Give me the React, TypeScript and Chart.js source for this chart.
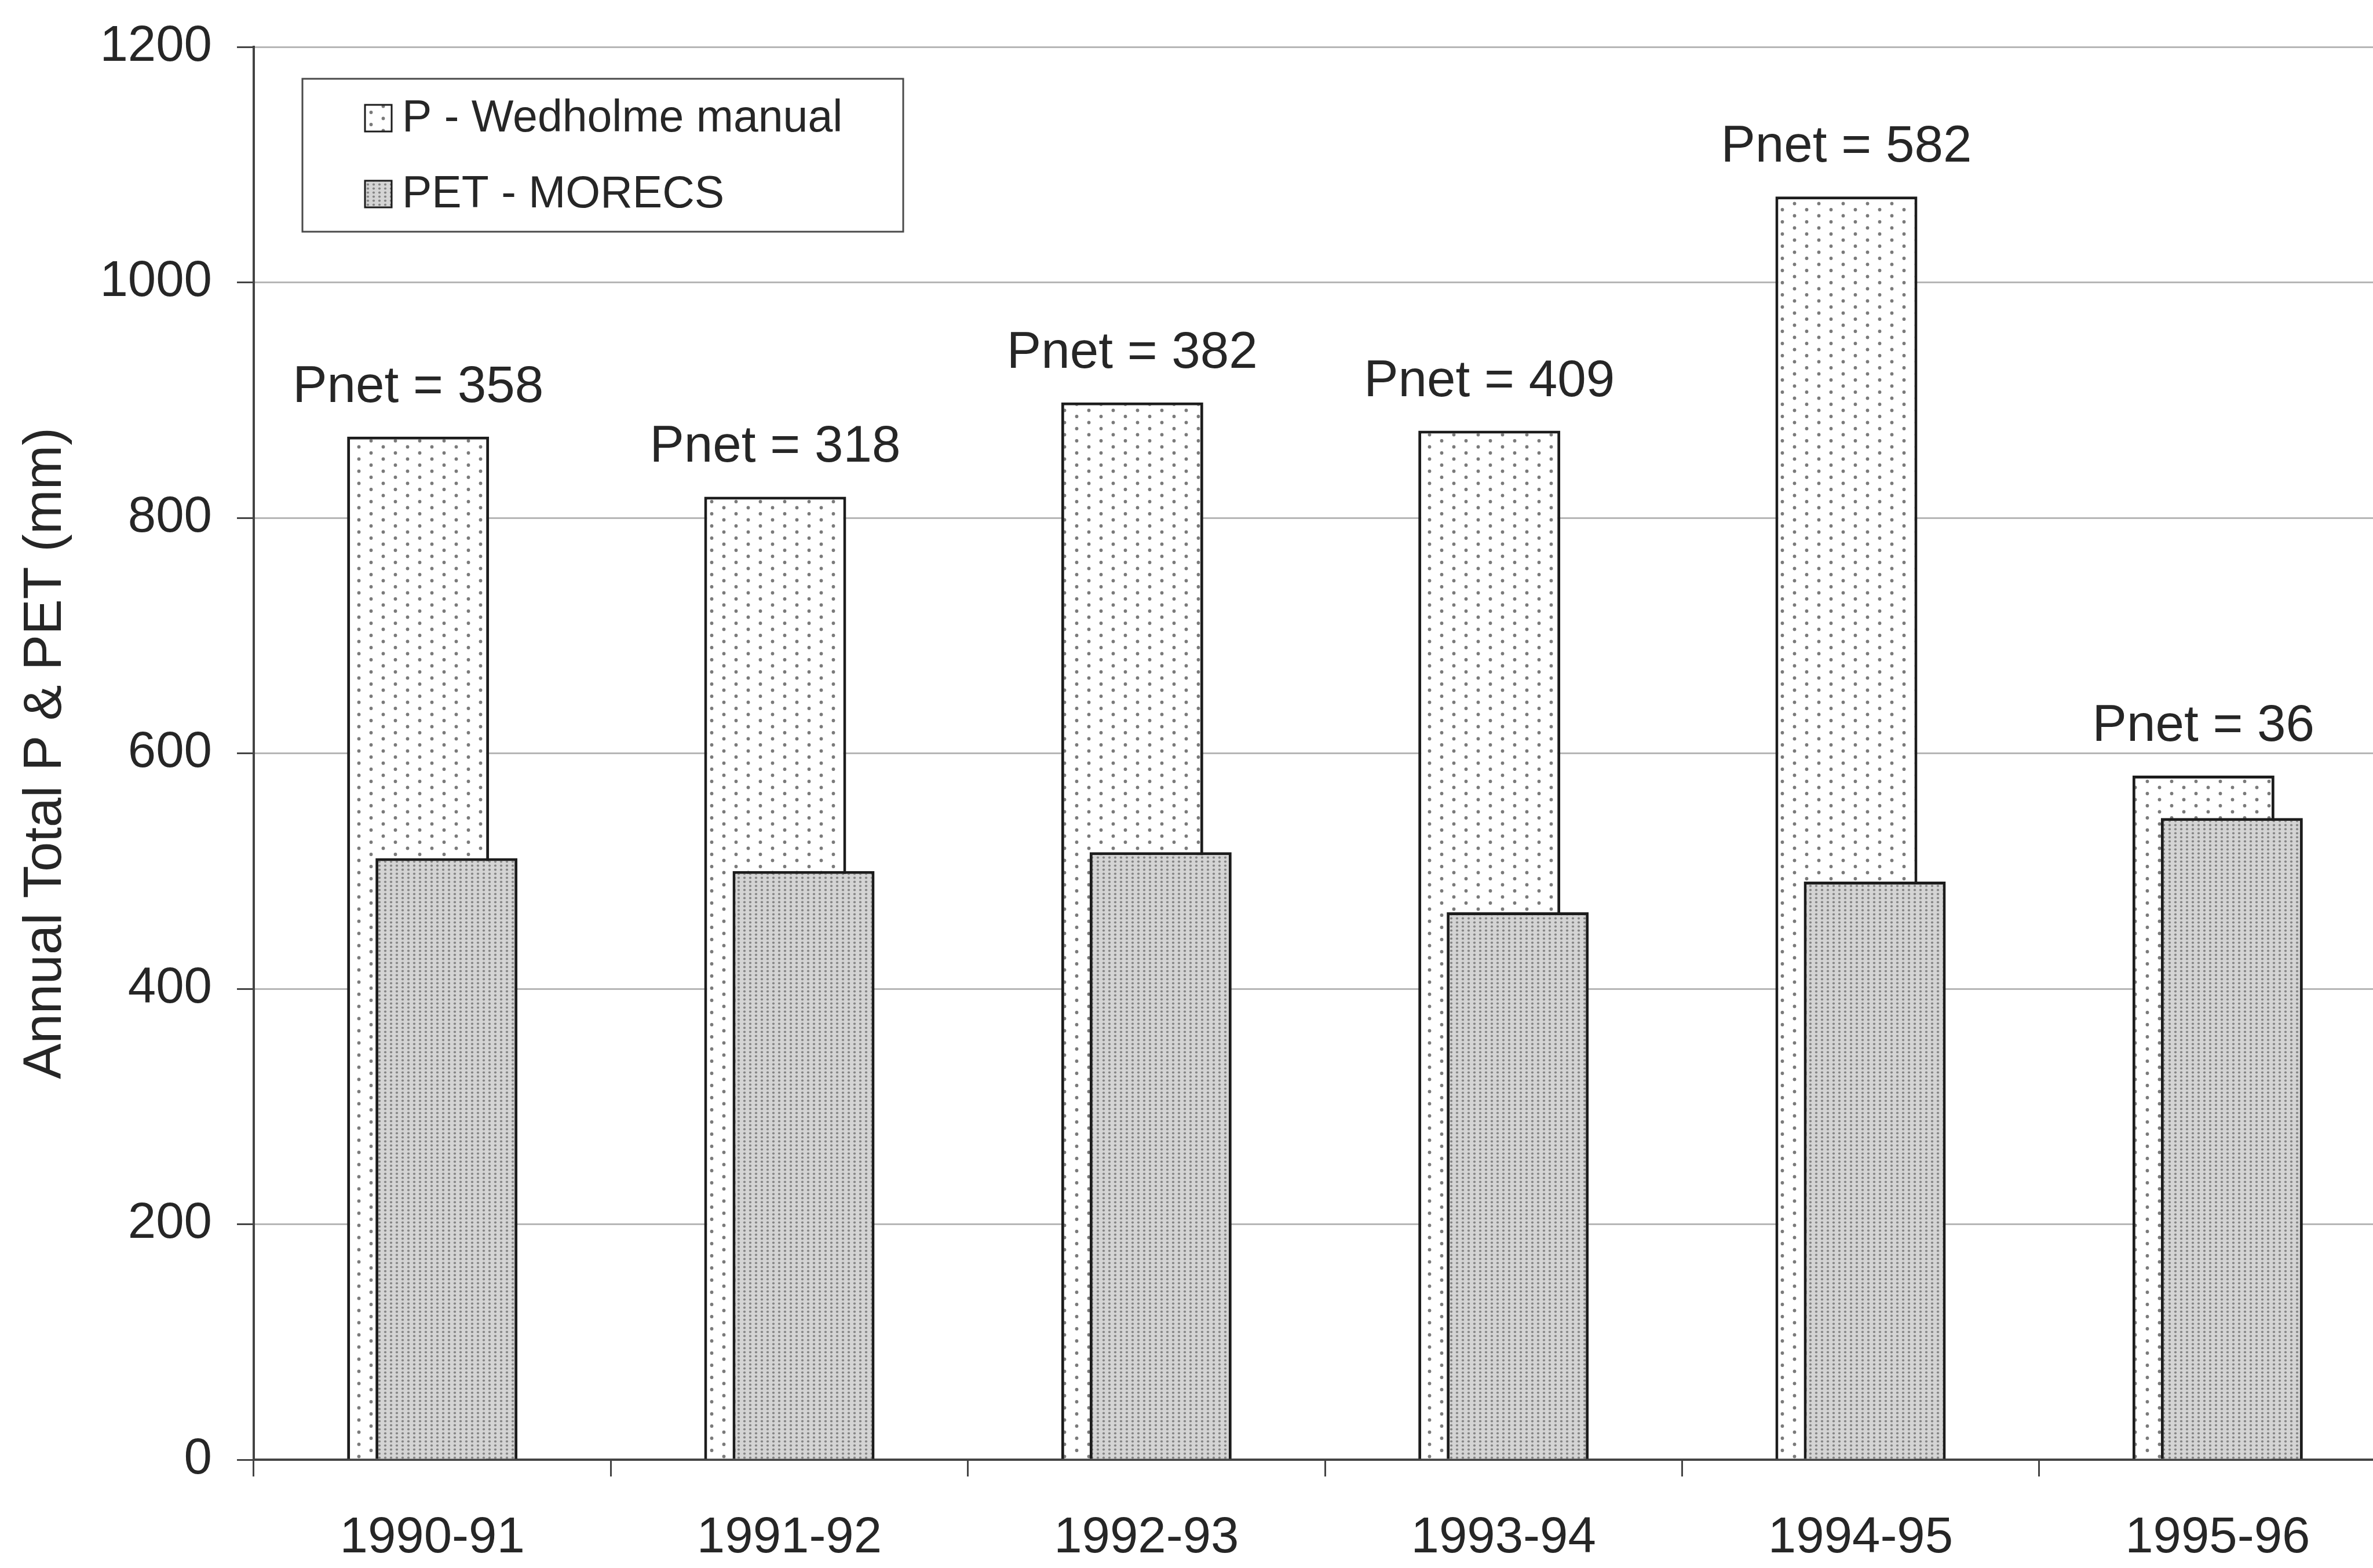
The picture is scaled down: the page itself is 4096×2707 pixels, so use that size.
import { useEffect, useRef } from "react";
import { Chart, registerables } from "chart.js";

Chart.register(...registerables);

// Hydrological years and annual totals (mm)
const seasons = ["1990-91", "1991-92", "1992-93", "1993-94", "1994-95", "1995-96"];
const precipitationMm = [869, 818, 898, 874, 1073, 581];
const petMm = [511, 500, 516, 465, 491, 545];
const seriesNames = ["P - Wedholme manual", "PET - MORECS"];
const yAxisTitle = "Annual Total P & PET (mm)";
const yMin = 0;
const yMax = 1200;
const yStep = 200;

const FONT = "'Liberation Sans', Arial, Helvetica, sans-serif";
const INK = "#262626";
const EDGE = "#1c1c1c";

function sparseDots(): CanvasPattern {
  const c = document.createElement("canvas");
  c.width = 42;
  c.height = 21;
  const g = c.getContext("2d")!;
  g.fillStyle = "#ffffff";
  g.fillRect(0, 0, c.width, c.height);
  g.fillStyle = "#7a7a7a";
  for (const [x, y] of [
    [10.5, 5],
    [31.5, 15.5],
  ]) {
    g.beginPath();
    g.arc(x, y, 2.9, 0, Math.PI * 2);
    g.fill();
  }
  return g.createPattern(c, "repeat")!;
}

function denseDots(): CanvasPattern {
  const c = document.createElement("canvas");
  c.width = 10;
  c.height = 7;
  const g = c.getContext("2d")!;
  g.fillStyle = "#d4d4d4";
  g.fillRect(0, 0, c.width, c.height);
  g.fillStyle = "#858585";
  g.beginPath();
  g.arc(5, 3.5, 2.1, 0, Math.PI * 2);
  g.fill();
  return g.createPattern(c, "repeat")!;
}

export default function App() {
  const ref = useRef<HTMLCanvasElement | null>(null);

  useEffect(() => {
    const canvas = ref.current;
    if (!canvas) return;
    const pFill = sparseDots();
    const petFill = denseDots();

    // PET bars overlap the P bars from the right, so draw them last
    const petOnTop = {
      id: "petOnTop",
      beforeDatasetDraw(_chart: any, args: any) {
        if (args.index === 1) return false;
      },
      afterDatasetsDraw(chart: any) {
        const meta = chart.getDatasetMeta(1);
        if (meta && !meta.hidden) meta.controller.draw();
      },
    };

    // "Pnet = P - PET" above each precipitation bar
    const pnetLabels = {
      id: "pnetLabels",
      afterDatasetsDraw(chart: any) {
        const ctx = chart.ctx;
        const meta = chart.getDatasetMeta(0);
        ctx.save();
        ctx.font = `89px ${FONT}`;
        ctx.fillStyle = INK;
        ctx.textAlign = "center";
        ctx.textBaseline = "alphabetic";
        meta.data.forEach((bar: any, i: number) => {
          const net = precipitationMm[i] - petMm[i];
          ctx.fillText(`Pnet = ${net}`, bar.x, bar.y - 60);
        });
        ctx.restore();
      },
    };

    // Boxed legend inside the plot area
    const boxedLegend = {
      id: "boxedLegend",
      afterDraw(chart: any) {
        const ctx = chart.ctx;
        const fills = [pFill, petFill];
        ctx.save();
        ctx.fillStyle = "#ffffff";
        ctx.fillRect(522, 136, 1037, 264);
        ctx.strokeStyle = "#4a4a4a";
        ctx.lineWidth = 3;
        ctx.strokeRect(522, 136, 1037, 264);
        ctx.font = `77px ${FONT}`;
        ctx.textAlign = "left";
        ctx.textBaseline = "middle";
        seriesNames.forEach((name, i) => {
          const cy = 204 + i * 131;
          ctx.fillStyle = fills[i];
          ctx.fillRect(630, cy - 23, 46, 46);
          ctx.strokeStyle = EDGE;
          ctx.lineWidth = 3;
          ctx.strokeRect(630, cy - 23, 46, 46);
          ctx.fillStyle = INK;
          ctx.fillText(name, 694, cy + 2);
        });
        ctx.restore();
      },
    };

    const chart = new Chart(canvas, {
      type: "bar",
      data: {
        labels: seasons,
        datasets: [
          {
            label: seriesNames[0],
            data: precipitationMm,
            backgroundColor: pFill,
            borderColor: EDGE,
            borderWidth: 5,
            categoryPercentage: 0.159,
            barPercentage: 5.0,
          },
          {
            label: seriesNames[1],
            data: petMm,
            backgroundColor: petFill,
            borderColor: EDGE,
            borderWidth: 5,
            categoryPercentage: 0.159,
            barPercentage: 5.0,
          },
        ],
      },
      options: {
        animation: false,
        responsive: false,
        devicePixelRatio: 1,
        layout: { padding: { top: 81, right: 64, left: 0, bottom: 0 } },
        plugins: {
          legend: { display: false },
          tooltip: { enabled: false },
        },
        scales: {
          x: {
            offset: true,
            grid: {
              offset: true,
              drawOnChartArea: false,
              drawTicks: true,
              tickLength: 29,
              color: "#444444",
              lineWidth: 3,
            },
            border: { display: true, color: "#444444", width: 4 },
            ticks: {
              color: INK,
              font: { family: FONT, size: 87 },
              padding: 55,
              maxRotation: 0,
              autoSkip: false,
            },
            afterFit: (s: any) => {
              s.height = 187;
              s.paddingLeft = 0;
              s.paddingRight = 0;
            },
          },
          y: {
            min: yMin,
            max: yMax,
            grid: {
              color: "#b6b6b6",
              lineWidth: 3,
              tickLength: 29,
              tickColor: "#444444",
              tickWidth: 3,
            },
            border: { display: true, color: "#444444", width: 4 },
            ticks: {
              stepSize: yStep,
              color: INK,
              font: { family: FONT, size: 87 },
              padding: 43,
              callback: (v: any) => String(v),
            },
            title: {
              display: true,
              text: yAxisTitle,
              color: INK,
              font: { family: FONT, size: 92 },
              padding: { top: 24, bottom: 0 },
            },
            afterFit: (s: any) => {
              s.width = 438;
              s.paddingTop = 0;
              s.paddingBottom = 0;
            },
          },
        },
      },
      plugins: [petOnTop, pnetLabels, boxedLegend],
    } as any);

    return () => chart.destroy();
  }, []);

  return (
    <div
      style={{
        position: "fixed",
        left: 0,
        top: 0,
        width: 4096,
        height: 2707,
        overflow: "hidden",
        background: "#ffffff",
      }}
    >
      <canvas
        ref={ref}
        width={4200}
        height={2707}
        style={{ display: "block", width: 4200, height: 2707 }}
      />
    </div>
  );
}
